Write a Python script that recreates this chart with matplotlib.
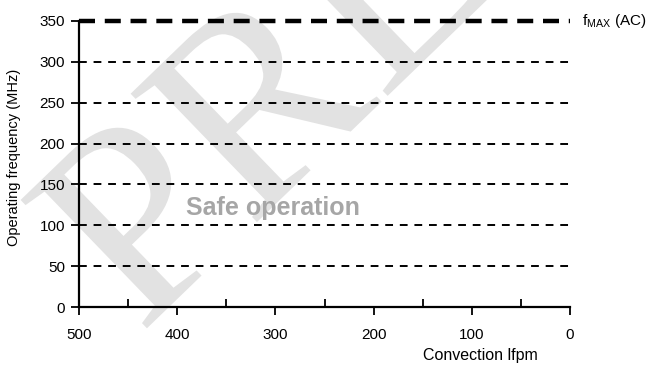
import matplotlib.pyplot as plt
import numpy as np
from matplotlib.textpath import TextPath
from matplotlib.patches import PathPatch
from matplotlib.font_manager import FontProperties
import matplotlib.transforms as mtransforms

plt.rcParams['font.family'] = 'Liberation Sans'
plt.rcParams['mathtext.fontset'] = 'custom'
plt.rcParams['mathtext.rm'] = 'Liberation Sans'
plt.rcParams['hatch.color'] = '#c4c4c4'
plt.rcParams['hatch.linewidth'] = 0.5

# data
x_ticks = [500, 400, 300, 200, 100, 0]
x_minor = [450, 350, 250, 150, 50]
y_ticks = [0, 50, 100, 150, 200, 250, 300, 350]
grid_levels = [50, 100, 150, 200, 250, 300]
fmax = 350

fig = plt.figure(figsize=(6.46, 3.65), dpi=100)
ax = fig.add_axes([0.1223, 0.1589, 0.7601, 0.7836])

# watermark (pixel coords, origin bottom-left)
fp = FontProperties(family='Liberation Serif')
tp = TextPath((0, 0), 'PRELIMINARY', size=275, prop=fp)
tr = mtransforms.Affine2D().rotate_deg(44).translate(140, 365 - 335)
patch = PathPatch(tr.transform_path(tp), facecolor='#e2e2e2', edgecolor='none',
                  hatch='++++', lw=0, transform=mtransforms.IdentityTransform(),
                  zorder=0.5, clip_on=False)
ax.add_artist(patch)

for lvl in grid_levels:
    ax.plot([500, 0], [lvl, lvl], color='black', lw=1.4, dashes=(4, 3.5), zorder=3)
ax.plot([500, 0], [fmax, fmax], color='black', lw=3.2, dashes=(3.6, 2.2), zorder=3,
        clip_on=False)

ax.set_xlim(500, 0)
ax.set_ylim(0, 350)
ax.set_xticks(x_ticks)
ax.set_xticks(x_minor, minor=True)
ax.set_yticks(y_ticks)
ax.tick_params(axis='x', which='major', direction='out', length=6, width=1.3, labelsize=11, pad=9)
ax.tick_params(axis='x', which='minor', direction='in', length=6, width=1.3)
ax.tick_params(axis='y', direction='out', length=6, width=1.3, labelsize=11, pad=4)
for s in ['top', 'right']:
    ax.spines[s].set_visible(False)
for s in ['left', 'bottom']:
    ax.spines[s].set_linewidth(1.6)
ax.patch.set_alpha(0)

ax.set_ylabel('Operating frequency (MHz)', fontsize=10.5)
ax.yaxis.set_label_coords(-0.118, 0.524)
ax.set_xlabel('Convection lfpm', fontsize=11.5)
ax.xaxis.set_label_coords(0.817, -0.145)

ax.text(303, 121, 'Safe operation', color='#a6a6a6', fontsize=18, fontweight='bold',
        ha='center', va='center', zorder=4)
ax.text(-12, fmax, r'f$_{\mathrm{MAX}}$ (AC)', fontsize=11, ha='left', va='center',
        clip_on=False)

fig.savefig('out.png', dpi=100)
